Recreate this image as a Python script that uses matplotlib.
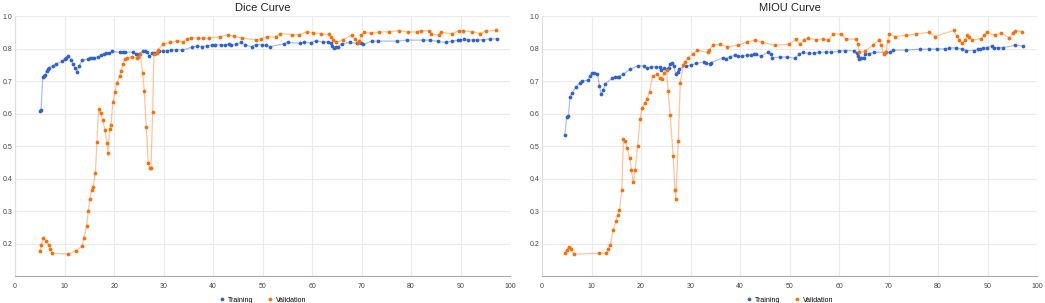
import numpy as np
import matplotlib
matplotlib.use('Agg')
import matplotlib.pyplot as plt

plt.rcParams['font.family'] = ['Liberation Sans', 'DejaVu Sans']

BLUE = '#2f62cf'
ORANGE = '#ff6d01'

#Dice curve, training
dice_train_x = [4.98, 5.25, 5.59, 5.85, 6.12, 6.39, 6.66, 6.93, 7.67, 8.34, 9.49, 10.03, 10.36, 10.77,
                11.31, 11.71, 12.11, 12.45, 12.92, 13.59, 14.74, 15.21, 15.61, 16.02, 16.69, 17.43,
                17.90, 18.44, 18.91, 19.65, 21.13, 21.80, 22.21, 23.75, 24.50, 25.03, 25.84, 26.24,
                26.65, 27.12, 27.66, 28.13, 28.53, 29.07, 29.95, 30.62, 31.43, 32.57, 33.78, 35.73,
                36.74, 37.82, 38.83, 39.84, 40.44, 41.52, 42.46, 43.27, 43.67, 44.62, 45.63, 46.43,
                47.78, 48.65, 49.93, 50.74, 51.41, 54.24, 55.05, 57.47, 58.41, 59.83, 60.70, 62.18,
                63.19, 63.73, 64.06, 64.40, 64.87, 65.28, 66.08, 67.63, 69.04, 69.92, 70.39, 72.07,
                73.28, 77.25, 79.14, 82.50, 83.78, 85.46, 87.01, 88.22, 89.43, 89.97, 90.65, 91.59,
                92.46, 93.27, 94.55, 96.03, 97.44]
dice_train_y = [0.609, 0.611, 0.711, 0.715, 0.719, 0.732, 0.737, 0.741, 0.747, 0.753, 0.761, 0.769, 0.772, 0.778,
                0.765, 0.752, 0.741, 0.729, 0.746, 0.764, 0.768, 0.771, 0.771, 0.772, 0.774, 0.779,
                0.783, 0.785, 0.785, 0.791, 0.789, 0.789, 0.789, 0.789, 0.782, 0.784, 0.792, 0.792,
                0.790, 0.776, 0.785, 0.785, 0.787, 0.792, 0.792, 0.792, 0.795, 0.797, 0.795, 0.804,
                0.808, 0.806, 0.809, 0.810, 0.810, 0.812, 0.812, 0.813, 0.810, 0.813, 0.819, 0.812,
                0.806, 0.812, 0.812, 0.810, 0.806, 0.814, 0.819, 0.816, 0.819, 0.818, 0.824, 0.820,
                0.821, 0.818, 0.808, 0.801, 0.804, 0.806, 0.815, 0.819, 0.816, 0.817, 0.813, 0.823,
                0.823, 0.823, 0.826, 0.826, 0.826, 0.822, 0.819, 0.823, 0.826, 0.827, 0.828, 0.826,
                0.827, 0.827, 0.827, 0.830, 0.830]

#Dice curve, validation
dice_val_x = [4.98, 5.32, 5.72, 6.26, 6.93, 7.13, 7.54, 10.70, 12.38, 13.59, 13.93, 14.47, 14.80, 15.14,
              15.48, 15.75, 16.22, 16.55, 16.89, 17.29, 17.70, 18.17, 18.57, 18.78, 19.11, 19.38,
              19.78, 20.19, 20.59, 21.13, 21.47, 21.80, 22.21, 22.61, 23.55, 24.56, 24.83, 25.30,
              25.77, 26.11, 26.51, 26.92, 27.25, 27.46, 27.79, 28.06, 28.60, 28.94, 29.81, 31.22,
              32.64, 33.85, 34.72, 35.53, 36.88, 37.95, 39.10, 41.45, 43.07, 44.28, 45.83, 48.72,
              49.60, 50.87, 52.62, 53.57, 55.99, 57.40, 58.95, 60.09, 61.71, 63.46, 63.80, 64.20,
              64.87, 66.22, 67.97, 68.64, 69.25, 69.58, 69.92, 70.52, 71.94, 73.62, 75.64, 77.52,
              79.41, 81.16, 81.97, 83.58, 84.05, 85.60, 86.14, 88.29, 89.64, 90.51, 92.40, 94.01,
              95.09, 97.17]
dice_val_y = [0.176, 0.197, 0.216, 0.209, 0.194, 0.184, 0.170, 0.168, 0.178, 0.193, 0.218, 0.255, 0.301, 0.337,
              0.365, 0.374, 0.416, 0.513, 0.614, 0.603, 0.580, 0.549, 0.510, 0.479, 0.552, 0.566,
              0.635, 0.667, 0.695, 0.715, 0.732, 0.752, 0.769, 0.771, 0.774, 0.771, 0.774, 0.783,
              0.724, 0.670, 0.558, 0.447, 0.432, 0.433, 0.604, 0.783, 0.787, 0.796, 0.813, 0.819,
              0.823, 0.819, 0.830, 0.833, 0.833, 0.833, 0.832, 0.837, 0.842, 0.838, 0.833, 0.826,
              0.830, 0.836, 0.836, 0.846, 0.843, 0.843, 0.851, 0.849, 0.845, 0.844, 0.837, 0.825,
              0.819, 0.827, 0.841, 0.830, 0.816, 0.822, 0.841, 0.850, 0.847, 0.851, 0.852, 0.855,
              0.851, 0.851, 0.855, 0.855, 0.845, 0.842, 0.850, 0.845, 0.855, 0.854, 0.852, 0.846,
              0.854, 0.856]

#MIOU curve, training
miou_train_x = [4.59, 4.99, 5.33, 5.66, 6.07, 6.81, 7.62, 8.09, 9.24, 9.64, 10.05, 10.59, 11.19, 11.60,
                11.94, 12.34, 12.74, 14.09, 14.77, 15.31, 15.64, 16.45, 17.80, 19.29, 20.57, 21.17,
                22.05, 22.93, 23.80, 23.94, 24.61, 25.22, 25.56, 25.76, 26.16, 26.57, 26.97, 27.38,
                27.71, 29.13, 30.01, 31.15, 32.64, 33.18, 33.92, 34.19, 36.61, 37.15, 37.96, 38.91,
                39.51, 40.39, 41.33, 42.21, 42.82, 43.16, 44.23, 45.58, 46.19, 46.53, 48.08, 49.43,
                51.18, 51.92, 52.66, 53.94, 54.89, 56.03, 57.38, 58.46, 60.08, 61.29, 62.98, 63.59,
                63.86, 64.13, 64.46, 64.94, 65.27, 65.95, 66.96, 69.52, 70.26, 70.94, 73.43, 76.33,
                78.15, 79.84, 81.46, 82.27, 83.68, 84.89, 85.63, 87.26, 88.06, 88.47, 89.01, 89.82,
                90.90, 91.37, 92.18, 93.19, 95.62, 97.24]
miou_train_y = [0.535, 0.590, 0.593, 0.652, 0.662, 0.681, 0.693, 0.701, 0.702, 0.715, 0.726, 0.726, 0.723, 0.685,
                0.659, 0.671, 0.691, 0.708, 0.714, 0.714, 0.714, 0.722, 0.736, 0.747, 0.746, 0.739,
                0.744, 0.744, 0.744, 0.734, 0.739, 0.737, 0.739, 0.751, 0.756, 0.746, 0.723, 0.727,
                0.738, 0.747, 0.748, 0.755, 0.758, 0.755, 0.753, 0.757, 0.772, 0.768, 0.775, 0.779,
                0.776, 0.776, 0.780, 0.780, 0.782, 0.782, 0.776, 0.789, 0.782, 0.772, 0.774, 0.774,
                0.770, 0.783, 0.788, 0.785, 0.786, 0.788, 0.790, 0.789, 0.792, 0.794, 0.793, 0.787,
                0.776, 0.769, 0.770, 0.770, 0.784, 0.784, 0.788, 0.789, 0.788, 0.795, 0.795, 0.798,
                0.798, 0.799, 0.799, 0.802, 0.802, 0.799, 0.794, 0.794, 0.798, 0.798, 0.801, 0.802,
                0.809, 0.803, 0.803, 0.803, 0.810, 0.808]

#MIOU curve, validation
miou_val_x = [4.59, 4.99, 5.39, 5.80, 6.47, 11.53, 13.01, 13.35, 13.76, 14.43, 14.90, 15.31, 15.64, 16.12,
              16.45, 16.79, 17.19, 17.67, 18.07, 18.41, 18.81, 19.29, 19.82, 20.23, 20.70, 21.17,
              21.71, 22.32, 23.20, 23.80, 24.21, 24.68, 25.15, 25.49, 25.89, 26.50, 26.84, 27.04,
              27.51, 27.92, 28.52, 28.86, 29.40, 30.55, 31.36, 33.51, 33.78, 34.52, 35.94, 37.42,
              39.65, 41.34, 43.02, 44.37, 47.00, 49.97, 51.38, 52.12, 52.87, 53.67, 55.36, 56.71,
              57.86, 58.87, 60.42, 61.43, 63.45, 63.79, 64.13, 65.21, 66.82, 68.11, 68.51, 68.98,
              69.52, 69.79, 70.13, 71.34, 73.57, 75.52, 78.15, 79.43, 83.14, 83.75, 84.29, 84.76,
              85.44, 85.91, 86.25, 86.85, 88.74, 89.35, 89.82, 91.44, 92.79, 94.40, 95.08, 95.62,
              97.03]
miou_val_y = [0.170, 0.180, 0.190, 0.184, 0.167, 0.170, 0.170, 0.182, 0.195, 0.243, 0.268, 0.288, 0.304, 0.365,
              0.521, 0.515, 0.494, 0.464, 0.427, 0.388, 0.427, 0.499, 0.584, 0.618, 0.631, 0.644,
              0.665, 0.715, 0.721, 0.710, 0.705, 0.726, 0.735, 0.668, 0.594, 0.468, 0.365, 0.337,
              0.514, 0.693, 0.749, 0.759, 0.770, 0.784, 0.795, 0.788, 0.797, 0.810, 0.814, 0.806,
              0.810, 0.820, 0.826, 0.820, 0.810, 0.814, 0.828, 0.814, 0.825, 0.832, 0.827, 0.830,
              0.825, 0.845, 0.845, 0.830, 0.828, 0.815, 0.788, 0.792, 0.810, 0.827, 0.811, 0.784,
              0.790, 0.822, 0.845, 0.837, 0.841, 0.845, 0.850, 0.837, 0.856, 0.839, 0.826, 0.816,
              0.826, 0.841, 0.836, 0.826, 0.830, 0.842, 0.851, 0.841, 0.847, 0.833, 0.848, 0.855,
              0.852]

y_ticks = [0.2, 0.3, 0.4, 0.5, 0.6, 0.7, 0.8, 0.9]
y_tick_labels = ['0.2', '0.3', '0.4', '0.5', '0.6', '0.7', '0.8', '1.0']
x_ticks = list(range(0, 101, 10))

panels = [
    ('Dice Curve', dice_train_x, dice_train_y, dice_val_x, dice_val_y),
    ('MIOU Curve', miou_train_x, miou_train_y, miou_val_x, miou_val_y),
]

fig = plt.figure(figsize=(10.45, 3.03), dpi=100)
axes_rects = [[0.0144, 0.089, 0.4737, 0.858], [0.5187, 0.089, 0.4737, 0.858]]

for rect, (title, tx, ty, vx, vy) in zip(axes_rects, panels):
    ax = fig.add_axes(rect)
    #faint connecting line, then the points on top
    ax.plot(tx, ty, color=BLUE, lw=0.9, alpha=0.4, zorder=2)
    ax.plot(vx, vy, color=ORANGE, lw=0.9, alpha=0.4, zorder=2)
    ax.plot(tx, ty, 'o', color=BLUE, ms=2.7, mew=0, zorder=3, label='Training')
    ax.plot(vx, vy, 'o', color=ORANGE, ms=2.7, mew=0, zorder=3, label='Validation')

    ax.set_xlim(0, 100)
    ax.set_ylim(0.1, 0.9)
    ax.set_xticks(x_ticks)
    ax.set_yticks(y_ticks)
    ax.set_yticklabels(y_tick_labels)
    ax.tick_params(length=0, labelsize=5, labelcolor='#444444')
    ax.tick_params(axis='x', pad=5)
    ax.tick_params(axis='y', pad=2)
    ax.grid(True, color='#ebebeb', lw=0.8)
    ax.set_axisbelow(True)
    for s in ['top', 'right']:
        ax.spines[s].set_visible(False)
    ax.spines['left'].set_color('#dddddd')
    ax.spines['bottom'].set_color('#aaaaaa')
    ax.spines['left'].set_linewidth(0.8)
    ax.spines['bottom'].set_linewidth(0.8)
    ax.set_title(title, fontsize=8, color='#222222', pad=4)

    handles, labels = ax.get_legend_handles_labels()
    ax.legend(handles[:2], labels[:2], loc='upper center', bbox_to_anchor=(0.5, -0.055), ncol=2,
              frameon=False, fontsize=5, handletextpad=0.3, columnspacing=2.0,
              markerscale=1.0, handlelength=1.0)

plt.savefig('out.png', dpi=100)
